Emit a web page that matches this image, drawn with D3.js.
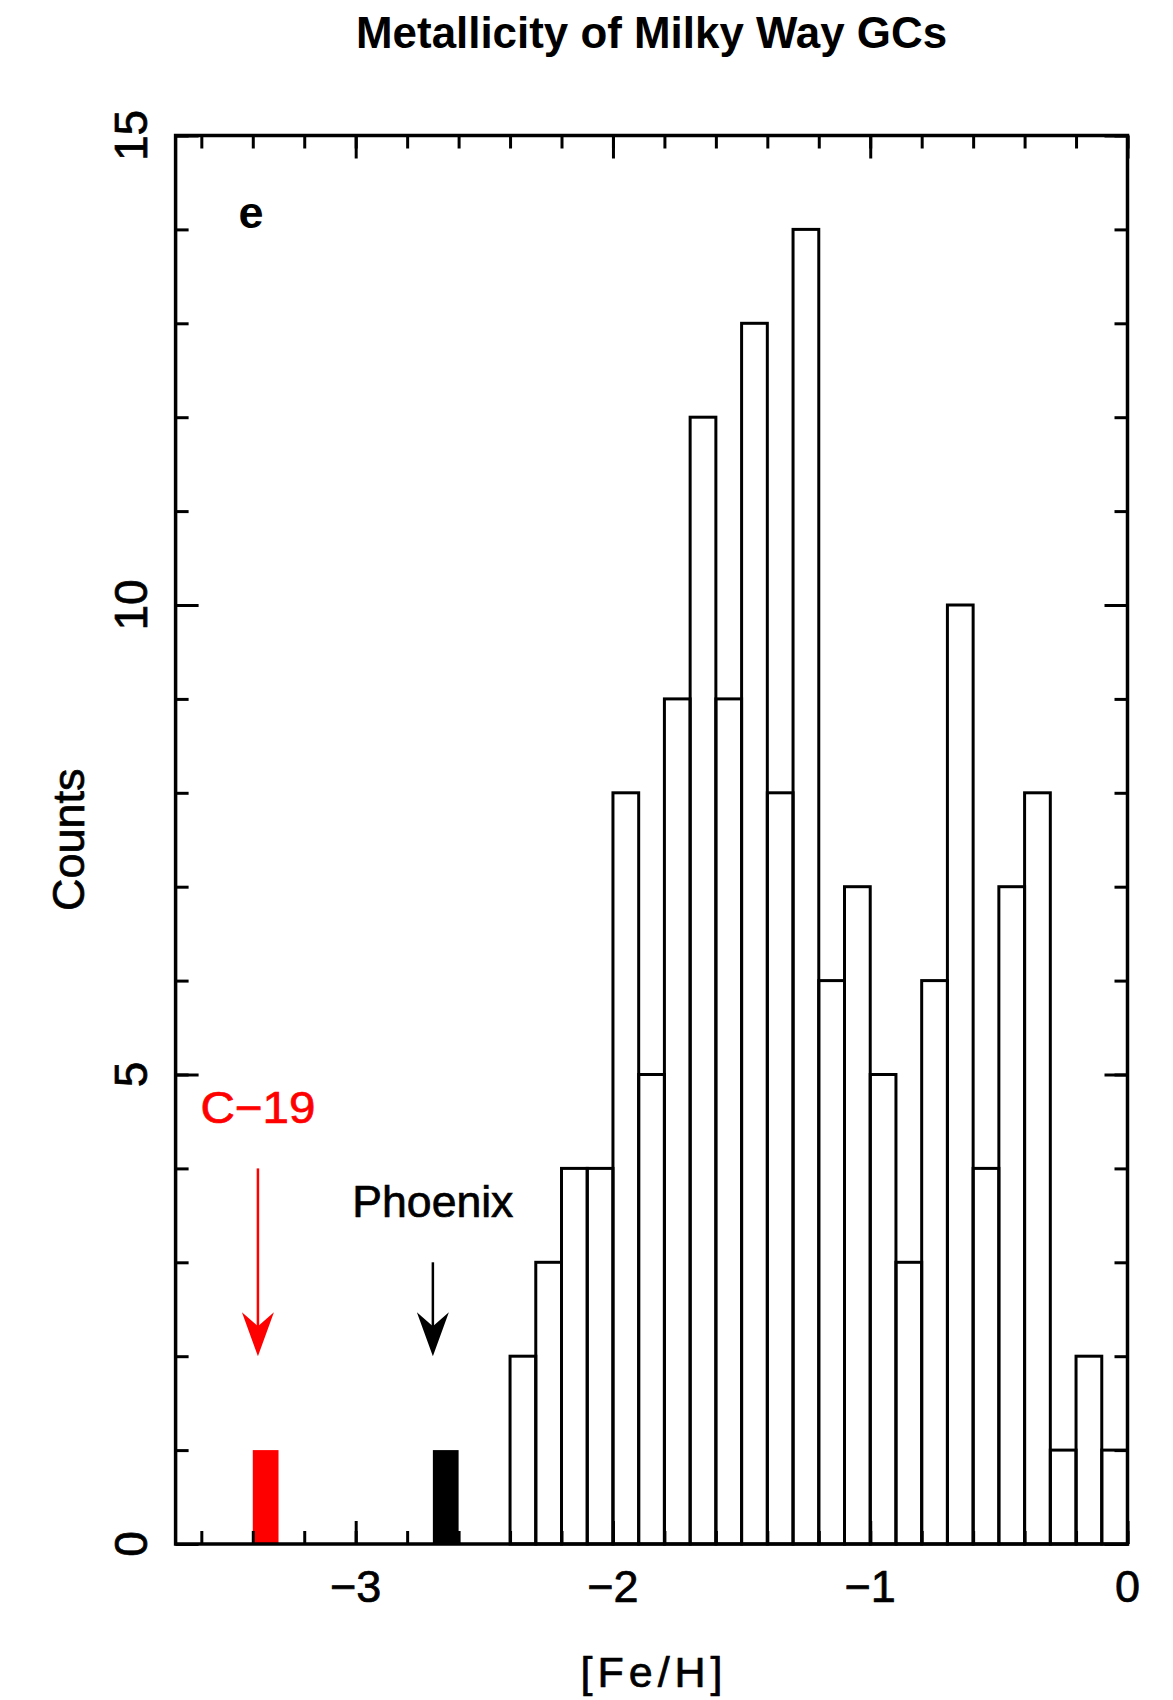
<!DOCTYPE html>
<html>
<head>
<meta charset="utf-8">
<script src="https://cdn.jsdelivr.net/npm/d3@7"></script>
<style>
  body { margin: 0; background: #fff; }
  text { font-family: "Liberation Sans", Arial, sans-serif; fill: #000; stroke-width: 0.7; }
</style>
</head>
<body>
<script>
// histogram of Milky Way GC metallicities, bins of 0.1 dex starting at -2.4
var binStart = -2.4,
    binWidth = 0.1;
var counts = [2, 3, 4, 4, 8, 5, 9, 12, 9, 13, 8, 14, 6, 7, 5, 3, 6, 10, 4, 7, 8, 1, 2, 1];

// the two highlighted objects
var objNames  = ["C\u221219", "Phoenix"];
var objFeH    = [-3.38, -2.70];
var objBinLo  = [-3.4, -2.7];
var objCount  = [1, 1];
var objArrowTop = [4, 3];
var objColors = ["#ff0000", "#000000"];

var xTicks = [-3, -2, -1, 0];
var yTicks = [0, 5, 10, 15];

var w = 1173,
    h = 1700,
    plotL = 175.6, plotR = 1127.5,
    plotT = 135.5, plotB = 1544;

var x = d3.scaleLinear().domain([-3.7, 0]).range([plotL, plotR]);
var y = d3.scaleLinear().domain([0, 15]).range([plotB, plotT]);

var svg = d3.select("body")
  .append("svg")
  .attr("width", w)
  .attr("height", h);

// histogram bars
var bins = counts.map(function(c, i) {
  return { lo: binStart + i * binWidth, hi: binStart + (i + 1) * binWidth, n: c };
});

svg.append("g")
  .selectAll("rect")
  .data(bins)
  .enter()
  .append("rect")
  .attr("x", function(d) { return x(d.lo); })
  .attr("y", function(d) { return y(d.n); })
  .attr("width", function(d) { return x(d.hi) - x(d.lo); })
  .attr("height", function(d) { return y(0) - y(d.n); })
  .attr("fill", "none")
  .attr("stroke", "#000")
  .attr("stroke-width", 3);

// filled bars for C-19 and Phoenix
svg.append("g")
  .selectAll("rect")
  .data(objNames)
  .enter()
  .append("rect")
  .attr("x", function(d, i) { return x(objBinLo[i]); })
  .attr("y", function(d, i) { return y(objCount[i]); })
  .attr("width", function(d, i) { return x(objBinLo[i] + binWidth) - x(objBinLo[i]); })
  .attr("height", function(d, i) { return y(0) - y(objCount[i]); })
  .attr("fill", function(d, i) { return objColors[i]; });

// arrows and their labels
var labelWidths = [115, 161];
objNames.forEach(function(name, i) {
  var ax = x(objFeH[i]);
  var tipY = y(2);
  svg.append("line")
    .attr("x1", ax).attr("x2", ax)
    .attr("y1", y(objArrowTop[i])).attr("y2", tipY - 20)
    .attr("stroke", objColors[i])
    .attr("stroke-width", 2.5);
  svg.append("path")
    .attr("d", "M" + ax + "," + tipY +
               "L" + (ax - 16) + "," + (tipY - 44) +
               "L" + ax + "," + (tipY - 30) +
               "L" + (ax + 16) + "," + (tipY - 44) + "Z")
    .attr("fill", objColors[i]);
  svg.append("text")
    .attr("x", ax)
    .attr("y", y(objArrowTop[i]) - 45)
    .attr("text-anchor", "middle")
    .attr("font-size", 45)
    .attr("textLength", labelWidths[i])
    .attr("lengthAdjust", "spacingAndGlyphs")
    .style("fill", objColors[i])
    .style("stroke", objColors[i])
    .text(name);
});

// frame
svg.append("rect")
  .attr("x", plotL).attr("y", plotT)
  .attr("width", plotR - plotL).attr("height", plotB - plotT)
  .attr("fill", "none")
  .attr("stroke", "#000")
  .attr("stroke-width", 3.5);

// ticks on all four sides, pointing inwards
var xMinor = d3.range(-3.6, 0.001, 0.2).map(function(v) { return Math.round(v * 10) / 10; });
var yMinor = d3.range(0, 16, 1);

function tickAxes(axisFn, scale, vals, size, tr) {
  var g = svg.append("g")
    .attr("transform", tr)
    .call(axisFn(scale).tickValues(vals).tickSize(size).tickFormat(""));
  g.select(".domain").remove();
  g.selectAll("line").attr("stroke-width", 3);
  return g;
}

tickAxes(d3.axisBottom, x, xMinor, -13, "translate(0," + plotB + ")");
tickAxes(d3.axisBottom, x, xTicks, -23, "translate(0," + plotB + ")");
tickAxes(d3.axisTop, x, xMinor, -13, "translate(0," + plotT + ")");
tickAxes(d3.axisTop, x, xTicks, -23, "translate(0," + plotT + ")");
tickAxes(d3.axisLeft, y, yMinor, -13, "translate(" + plotL + ",0)");
tickAxes(d3.axisLeft, y, yTicks, -23, "translate(" + plotL + ",0)");
tickAxes(d3.axisRight, y, yMinor, -13, "translate(" + plotR + ",0)");
tickAxes(d3.axisRight, y, yTicks, -23, "translate(" + plotR + ",0)");

// tick labels
svg.append("g")
  .selectAll("text")
  .data(xTicks)
  .enter()
  .append("text")
  .attr("x", function(d) { return x(d); })
  .attr("y", 1602)
  .attr("text-anchor", "middle")
  .attr("font-size", 45)
  .style("stroke", "#000")
  .text(function(d) { return d < 0 ? "\u2212" + Math.abs(d) : d; });

svg.append("g")
  .selectAll("text")
  .data(yTicks)
  .enter()
  .append("text")
  .attr("transform", function(d) { return "translate(147," + y(d) + ") rotate(-90)"; })
  .attr("text-anchor", "middle")
  .attr("font-size", 46)
  .style("stroke", "#000")
  .text(function(d) { return d; });

// titles
svg.append("text")
  .attr("x", (plotL + plotR) / 2)
  .attr("y", 48)
  .attr("text-anchor", "middle")
  .attr("font-size", 44)
  .attr("font-weight", "bold")
  .attr("textLength", 591)
  .attr("lengthAdjust", "spacingAndGlyphs")
  .text("Metallicity of Milky Way GCs");

svg.append("text")
  .attr("x", (plotL + plotR) / 2)
  .attr("y", 1687)
  .attr("text-anchor", "middle")
  .attr("font-size", 43)
  .attr("textLength", 142)
  .attr("lengthAdjust", "spacing")
  .style("stroke", "#000")
  .text("[Fe/H]");

svg.append("text")
  .attr("transform", "translate(84," + (plotT + plotB) / 2 + ") rotate(-90)")
  .attr("text-anchor", "middle")
  .attr("font-size", 45)
  .style("stroke", "#000")
  .text("Counts");

svg.append("text")
  .attr("x", 251)
  .attr("y", 228)
  .attr("text-anchor", "middle")
  .attr("font-size", 45)
  .attr("font-weight", "bold")
  .text("e");
</script>
</body>
</html>
